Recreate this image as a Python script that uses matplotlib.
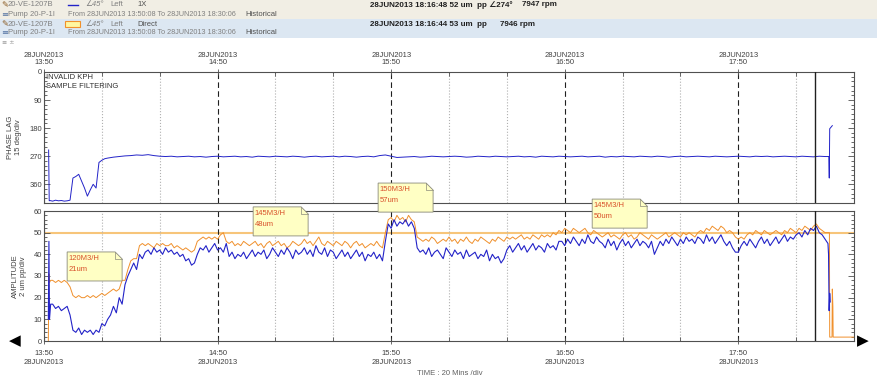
import matplotlib.pyplot as plt
import numpy as np
from matplotlib.patches import Polygon, Rectangle
from matplotlib.lines import Line2D
from matplotlib.ticker import MultipleLocator

plt.rcParams['font.family'] = ['Liberation Sans', 'DejaVu Sans']

# time axis: minutes after 28JUN2013 13:50
hour_ticks = [0, 60, 120, 180, 240]
hour_labels = ['13:50', '14:50', '15:50', '16:50', '17:50']
sub_ticks = [20, 40, 80, 100, 140, 160, 200, 220, 260]
date_label = '28JUN2013'
cursor_min = 266.6
alarm_um = 50

# phase lag 1X (deg)
phase_head_t = [1.6, 1.8]
phase_head = [250, 413]
phase_early = [412, 414, 411, 413, 412, 414, 413, 411, 340, 335,   # t=2..11
               328, 350, 372, 398, 378, 360, 372, 290, 283, 278]   # t=12..21
phase_main = [276, 273, 271, 269, 268, 266, 267, 265, 268, 270,    # t=22..40 step 2
              271, 270, 272, 271, 270, 272, 271, 273, 271, 270,
              272, 271, 270, 272, 271, 273, 270, 271, 272, 270,
              271, 272, 270, 271, 273, 271, 270, 272, 271, 270,
              272, 270, 271, 273, 271, 270, 272, 268, 266, 270,
              274, 273, 272, 271, 273, 272, 270, 271, 272, 271,
              270, 271, 273, 272, 270, 271, 272, 270, 271, 272,
              271, 270, 272, 271, 273, 270, 271, 272, 270, 271,
              272, 271, 270, 272, 271, 270, 273, 271, 272, 270,
              271, 272, 270, 271, 272, 270, 271, 273, 271, 270,
              272, 271, 270, 271, 272, 270, 271, 272, 271, 270,
              271, 272, 270, 271, 270, 272, 271, 270, 271, 272,
              270, 271, 272, 270, 271]
phase_tail_t = [271.3, 271.45, 271.6, 272.5]
phase_tail = [271, 340, 182, 172]

# amplitude 1X (um pp)
amp1x_head_t = [1.5, 1.7, 1.9, 2.3]
amp1x_head = [10, 46, 10, 17]
amp1x_main = [17, 15, 16, 14, 15, 16, 12, 5, 4, 6,      # t=3..12
              3, 5, 4, 5, 3, 5, 4, 8, 7, 10,
              12, 16, 13, 20, 17, 26, 30, 33, 36, 33,
              40, 38, 41, 42, 40, 43, 41, 42, 40, 43,
              41, 42, 40, 41, 39, 40, 37, 38, 35, 36,
              40, 43, 42, 44, 41, 43, 45, 42, 43, 41,
              45, 39, 41, 38, 40, 39, 41, 38, 40, 42,
              39, 41, 40, 42, 38, 40, 43, 41, 39, 42,
              40, 43, 41, 38, 42, 40, 41, 43, 40, 42,
              39, 44, 41, 40, 43, 39, 42, 41, 38, 40,
              42, 39, 41, 38, 40, 42, 39, 41, 37, 40,
              39, 41, 38, 40, 37, 46, 54, 52, 56, 53,
              55, 54, 56, 53, 55, 52, 43, 41, 42, 40,
              43, 39, 41, 42, 40, 38, 43, 41, 39, 42,
              40, 41, 38, 42, 39, 40, 41, 38, 40, 39,
              42, 37, 40, 38, 39, 36, 38, 42, 44, 41,
              43, 45, 42, 44, 41, 43, 45, 42, 44, 43,
              41, 45, 43, 44, 42, 46, 46, 44, 47, 45,
              48, 46, 44, 47, 45, 49, 46, 45, 48, 46,
              45, 43, 47, 44, 46, 42, 45, 47, 44, 46,
              43, 45, 47, 44, 46, 45, 43, 46, 40, 43,
              46, 44, 47, 45, 48, 46, 44, 47, 45, 48,
              46, 47, 45, 48, 47, 45, 49, 46, 48, 45,
              47, 49, 46, 44, 46, 43, 41, 41, 44, 46,
              44, 47, 45, 43, 46, 48, 45, 47, 44, 46,
              48, 45, 47, 49, 46, 48, 47, 49, 50, 48,
              51, 49, 52, 51, 53, 50, 49, 47, 45]
amp1x_tail_t = [271.2, 271.4, 271.6, 271.8]
amp1x_tail = [40, 14, 22, 18]

# amplitude direct (um pp)
ampdir_head_t = [1.5, 1.7, 1.9, 2.3]
ampdir_head = [0, 31, 27, 28]
ampdir_main = [28, 27, 28, 27, 28, 27, 25, 21, 20, 21,   # t=3..12
               20, 20, 21, 20, 21, 20, 21, 22, 21, 22,
               23, 24, 23, 24, 28, 28, 33, 37, 38, 38,
               44, 45, 44, 45, 44, 43, 45, 44, 45, 44,
               44, 45, 43, 44, 43, 42, 43, 42, 41, 42,
               46, 47, 48, 47, 48, 47, 48, 47, 49, 50,
               46, 45, 46, 44, 45, 44, 46, 45, 44, 45,
               46, 44, 45, 43, 45, 46, 44, 45, 46, 44,
               45, 43, 44, 46, 45, 44, 45, 47, 45, 46,
               44, 46, 48, 45, 44, 46, 45, 44, 46, 45,
               44, 46, 45, 43, 45, 46, 44, 45, 43, 44,
               45, 44, 46, 44, 43, 50, 56, 57, 55, 58,
               56, 57, 55, 58, 56, 55, 48, 47, 46, 47,
               46, 48, 47, 45, 46, 47, 46, 48, 46, 47,
               45, 47, 46, 48, 46, 45, 47, 46, 48, 47,
               46, 45, 47, 46, 48, 47, 46, 48, 47, 48,
               47, 48, 49, 47, 48, 47, 49, 48, 47, 49,
               48, 49, 48, 50, 49, 51, 50, 52, 51, 50,
               52, 51, 50, 51, 52, 50, 49, 51, 50, 49,
               48, 49, 50, 48, 49, 48, 47, 49, 50, 48,
               49, 47, 48, 50, 49, 48, 47, 49, 48, 47,
               48, 49, 50, 48, 49, 50, 49, 48, 50, 49,
               50, 49, 48, 50, 51, 50, 52, 51, 53, 52,
               51, 53, 52, 50, 51, 50, 48, 47, 48, 47,
               49, 50, 49, 51, 50, 49, 51, 50, 49, 50,
               51, 50, 49, 51, 50, 52, 51, 50, 52, 51,
               53, 52, 51, 53, 54, 52, 51, 50, 50]
ampdir_tail_t = [271.5, 271.6, 272.4, 272.5, 272.7, 272.8, 280]
ampdir_tail = [50, 1.8, 1.8, 24, 16, 1.8, 1.8]

# flow notes
note_text = ['120M3/H\n21um', '145M3/H\n48um', '150M3/H\n57um', '145M3/H\n50um']
note_x = [8.0, 72.3, 115.5, 189.5]
note_y = [27.7, 48.5, 59.5, 52.1]

phase_t = np.concatenate([phase_head_t, np.arange(2, 2 + len(phase_early)),
                          np.arange(22, 22 + 2 * len(phase_main), 2), phase_tail_t])
phase = np.concatenate([phase_head, phase_early, phase_main, phase_tail])
amp1x_t = np.concatenate([amp1x_head_t, np.arange(3, 3 + len(amp1x_main)), amp1x_tail_t])
amp1x = np.concatenate([amp1x_head, amp1x_main, amp1x_tail])
ampdir_t = np.concatenate([ampdir_head_t, np.arange(3, 3 + len(ampdir_main)), ampdir_tail_t])
ampdir = np.concatenate([ampdir_head, ampdir_main, ampdir_tail])

W, H = 877, 387
fig = plt.figure(figsize=(W / 100, H / 100), dpi=100)


def fx(px):
    return px / W


def fy(py):
    return 1 - py / H


blue = '#2323c8'
orange = '#f0902c'

# header bands
fig.patches.append(Rectangle((0, fy(19)), 1, 19 / H, transform=fig.transFigure,
                             facecolor='#f1eee4', edgecolor='none', zorder=0))
fig.patches.append(Rectangle((0, fy(38)), 1, 19 / H, transform=fig.transFigure,
                             facecolor='#dce7f2', edgecolor='none', zorder=0))
for row in [5, 24]:
    fig.text(fx(1), fy(row), '✎', color='#8a5a20', fontsize=6, va='center', family=['DejaVu Sans'])
    fig.text(fx(8), fy(row), '20-VE-1207B', color='#808080', fontsize=5.5, va='center')
    fig.text(fx(85), fy(row), '∠45°', color='#808080', fontsize=5.5, va='center', style='italic')
    fig.text(fx(110), fy(row), 'Left', color='#808080', fontsize=5.5, va='center')
for row in [14, 33]:
    fig.text(fx(1), fy(row), '≡', color='#5070a0', fontsize=6, va='center', family=['DejaVu Sans'])
    fig.text(fx(8), fy(row), 'Pump 20-P-1I', color='#808080', fontsize=5.5, va='center')
    fig.text(fx(68), fy(row), 'From 28JUN2013 13:50:08 To 28JUN2013 18:30:06',
             color='#808080', fontsize=5.2, va='center')
    fig.text(fx(245), fy(row), 'Historical', color='#505050', fontsize=5.5, va='center')
fig.text(fx(137), fy(5), '1X', color='#505050', fontsize=5.5, va='center')
fig.text(fx(137), fy(24), 'Direct', color='#505050', fontsize=5.5, va='center')
fig.lines.append(Line2D([fx(68), fx(78)], [fy(5), fy(5)], transform=fig.transFigure,
                        color=blue, lw=1))
fig.patches.append(Rectangle((fx(65), fy(27)), 15 / W, 6 / H, transform=fig.transFigure,
                             facecolor='#fff7a0', edgecolor=orange, lw=0.8))
fig.text(fx(370), fy(5), '28JUN2013 18:16:48 52 um  pp ∠274°', fontsize=5.8,
         weight='bold', color='#202020', va='center')
fig.text(fx(522), fy(5), '7947 rpm', fontsize=5.8, weight='bold', color='#202020', va='center')
fig.text(fx(370), fy(24), '28JUN2013 18:16:44 53 um  pp', fontsize=5.8,
         weight='bold', color='#202020', va='center')
fig.text(fx(500), fy(24), '7946 rpm', fontsize=5.8, weight='bold', color='#202020', va='center')
fig.text(fx(2), fy(43), '≡ ±', color='#909090', fontsize=4.5, va='center', family=['DejaVu Sans'])

ax_ph = fig.add_axes([fx(44), fy(203), (854 - 44) / W, (203 - 72) / H])
ax_am = fig.add_axes([fx(44), fy(341), (854 - 44) / W, (341 - 211) / H])

for ax in [ax_ph, ax_am]:
    ax.set_xlim(0, 280)
    ax.set_xticks(hour_ticks)
    ax.set_xticks(sub_ticks, minor=True)
    ax.grid(which='major', axis='x', color='#202020', ls=(0, (5, 3)), lw=0.8)
    ax.grid(which='minor', axis='x', color='#b0b0b0', ls=':', lw=0.8)
    ax.axvline(cursor_min, color='#202020', lw=1.0, zorder=5)
    for s in ax.spines.values():
        s.set_color('#505050')
        s.set_linewidth(0.8)
    ax.tick_params(axis='both', which='both', labelsize=5.5, labelcolor='#404040',
                   color='#505050', width=0.6, pad=1.5)
    ax.tick_params(axis='x', which='major', direction='inout', length=5)
    ax.tick_params(axis='x', which='minor', direction='in', length=3)
    ax.tick_params(axis='y', which='both', direction='in', left=True, right=True)
    ax.tick_params(axis='y', which='major', length=4)
    ax.tick_params(axis='y', which='minor', length=2)

# phase panel
ax_ph.plot(phase_t, phase, color=blue, lw=0.7)
ax_ph.set_ylim(420, 0)
ax_ph.set_yticks([0, 90, 180, 270, 360])
ax_ph.yaxis.set_minor_locator(MultipleLocator(15))
ax_ph.xaxis.tick_top()
ax_ph.tick_params(axis='x', which='both', bottom=False)
ax_ph.set_xticklabels([f'{date_label}\n{h}' for h in hour_labels], linespacing=1.1)
ax_ph.text(0.6, 8, 'INVALID KPH\nSAMPLE FILTERING', fontsize=5.5, color='#303030',
           va='top', linespacing=1.3)
ax_ph.set_ylabel('PHASE LAG\n15 deg/div', fontsize=5.5, color='#404040', labelpad=5,
                 linespacing=1.2)

# amplitude panel
ax_am.axhline(alarm_um, color='#f7c57a', lw=1.5, zorder=1)
ax_am.plot(ampdir_t, ampdir, color=orange, lw=0.7, zorder=3)
ax_am.plot(amp1x_t, amp1x, color=blue, lw=0.8, zorder=4)
ax_am.set_ylim(0, 60)
ax_am.set_yticks(range(0, 61, 10))
ax_am.yaxis.set_minor_locator(MultipleLocator(2))
ax_am.tick_params(axis='x', which='major', pad=4)
ax_am.set_xticklabels([f'{h}\n{date_label}' for h in hour_labels], linespacing=1.3)
ax_am.set_ylabel('AMPLITUDE\n2 um pp/div', fontsize=5.5, color='#404040', labelpad=5,
                 linespacing=1.2)
ax_am.set_xlabel('TIME : 20 Mins /div', fontsize=5.5, color='#606060')
ax_am.xaxis.set_label_coords((450 - 44) / (854 - 44), -0.22)

bw, bh, fold_x, fold_y = 19, 13.4, 2.4, 3.2
for txt, x0, y0 in zip(note_text, note_x, note_y):
    x1, y1 = x0 + bw, y0 + bh
    ax_am.add_patch(Polygon([(x0, y0), (x1, y0), (x1, y1 - fold_y), (x1 - fold_x, y1), (x0, y1)],
                            closed=True, facecolor='#ffffc4', edgecolor='#8a8a7a', lw=0.6,
                            clip_on=False, zorder=10))
    ax_am.plot([x1 - fold_x, x1 - fold_x, x1], [y1, y1 - fold_y, y1 - fold_y],
               color='#8a8a7a', lw=0.5, clip_on=False, zorder=11)
    ax_am.text(x0 + 0.6, y1 - 1.5, txt, fontsize=5.5, color='#d8502a', va='top',
               linespacing=1.7, zorder=12, clip_on=False)

fig.text(fx(15), fy(341), '◀', fontsize=11, ha='center', va='center', family=['DejaVu Sans'])
fig.text(fx(863), fy(341), '▶', fontsize=11, ha='center', va='center', family=['DejaVu Sans'])

fig.savefig('out.png', dpi=100)
